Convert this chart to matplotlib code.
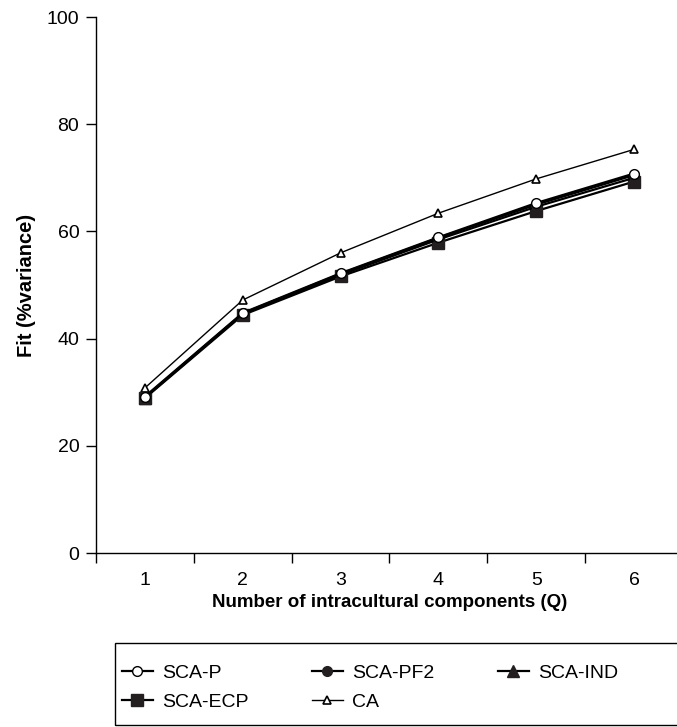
import numpy as np
import matplotlib.pyplot as plt
from matplotlib.patches import Rectangle
from matplotlib.ticker import FixedLocator

plt.rcParams['font.family'] = ['Liberation Sans', 'DejaVu Sans']

# data
q = [1, 2, 3, 4, 5, 6]
sca_p = [29.2, 44.8, 52.2, 58.9, 65.3, 70.8]
sca_pf2 = [29.1, 44.7, 52.1, 58.8, 65.0, 70.5]
sca_ind = [29.0, 44.6, 51.9, 58.5, 64.6, 70.0]
sca_ecp = [28.9, 44.4, 51.6, 57.9, 63.8, 69.3]
ca = [30.8, 47.2, 56.0, 63.4, 69.8, 75.3]

fig = plt.figure(figsize=(6.77, 7.27), dpi=100)
ax = fig.add_axes([0.1418, 0.2393, 0.867, 0.7373])

ax.plot(q, ca, color='black', lw=1.0, marker='^', ms=6, mfc='white',
        mec='black', mew=1.2, label='CA')
ax.plot(q, sca_ecp, color='black', lw=1.6, marker='s', ms=8, mfc='#231f20',
        mec='#231f20', label='SCA-ECP')
ax.plot(q, sca_ind, color='black', lw=1.6, marker='^', ms=8, mfc='#231f20',
        mec='#231f20', label='SCA-IND')
ax.plot(q, sca_pf2, color='black', lw=1.6, marker='o', ms=7, mfc='#231f20',
        mec='#231f20', label='SCA-PF2')
ax.plot(q, sca_p, color='black', lw=1.6, marker='o', ms=7, mfc='white',
        mec='black', label='SCA-P')

ax.set_xlim(0.5, 6.5)
ax.set_ylim(0, 100)
ax.spines['top'].set_visible(False)
ax.spines['right'].set_visible(False)
ax.spines['left'].set_linewidth(1.0)
ax.spines['bottom'].set_linewidth(1.0)

ax.set_yticks([0, 20, 40, 60, 80, 100])
ax.tick_params(axis='y', direction='out', length=7, width=1, labelsize=14, pad=5)
ax.set_xticks(q)
ax.tick_params(axis='x', which='major', length=0, labelsize=14, pad=14)
ax.xaxis.set_minor_locator(FixedLocator([0.5, 1.5, 2.5, 3.5, 4.5, 5.5]))
ax.tick_params(axis='x', which='minor', direction='out', length=7, width=1)

ax.set_xlabel('Number of intracultural components (Q)', fontsize=13.5,
              fontweight='bold', labelpad=3)
ax.set_ylabel('Fit (%variance)', fontsize=14.5, fontweight='bold', labelpad=8)

# legend box runs off the right edge like the original
W, H = 677, 727
fig.patches.append(Rectangle((115 / W, 1 - 725 / H), 590 / W, 82 / H,
                             transform=fig.transFigure, fill=False,
                             edgecolor='black', lw=1.0))

h, l = ax.get_legend_handles_labels()
hm = dict(zip(l, h))
# column-major fill so the rows read P, PF2, IND / ECP, CA
arr = ['SCA-P', 'SCA-ECP', 'SCA-PF2', 'CA', 'SCA-IND']
leg = fig.legend([hm[k] for k in arr], arr, ncol=3, loc='upper left',
                 bbox_to_anchor=(105 / W, 1 - 655 / H, 530 / W, 0.01),
                 mode='expand', frameon=False, fontsize=14,
                 handlelength=1.6, handletextpad=0.5, borderpad=0.85,
                 labelspacing=0.6, borderaxespad=0)

fig.savefig('out.png', dpi=100)
